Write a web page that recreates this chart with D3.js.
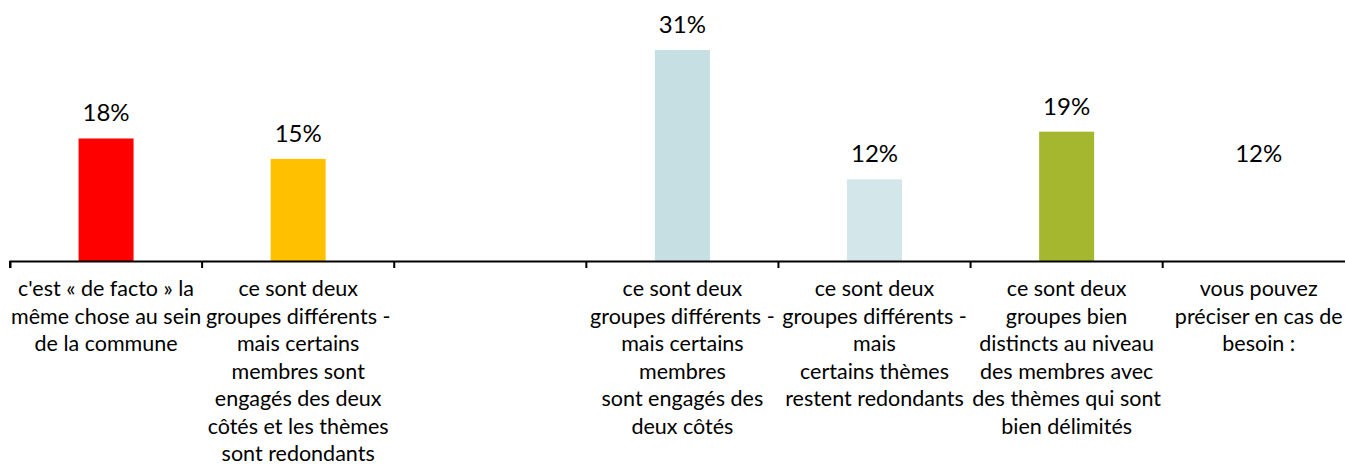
<!DOCTYPE html>
<html><head><meta charset="utf-8">
<script src="https://cdn.jsdelivr.net/npm/d3@7"></script>
<style>html,body{margin:0;padding:0;background:#fff;}svg{display:block;}</style>
</head><body>
<script>
const categories = [
  "c'est « de facto » la\nmême chose au sein\nde la commune",
  "ce sont deux\ngroupes différents -\nmais certains\nmembres sont\nengagés des deux\ncôtés et les thèmes\nsont redondants",
  "",
  "ce sont deux\ngroupes différents -\nmais certains\nmembres\nsont engagés des\ndeux côtés",
  "ce sont deux\ngroupes différents -\nmais\ncertains thèmes\nrestent redondants",
  "ce sont deux\ngroupes bien\ndistincts au niveau\ndes membres avec\ndes thèmes qui sont\nbien délimités",
  "vous pouvez\npréciser en cas de\nbesoin :"
];
const values = [18, 15, null, 31, 12, 19, 12];
const colors = ["#FF0000", "#FFC000", "#FFFFFF", "#C5DFE2", "#D3E6E9", "#A5B62F", "#FFFFFF"];
const valueLabels = ["18%", "15%", "", "31%", "12%", "19%", "12%"];

const W = 1345, H = 467;
const svg = d3.select("body").append("svg").attr("width", W).attr("height", H);
const font = "Lato, 'Open Sans', sans-serif";

const idx = d3.range(categories.length);
const x = d3.scaleBand().domain(idx).range([10, 1354.8]).paddingInner(0).paddingOuter(0);
const baseY = 261;
const y = d3.scaleLinear().domain([0, 31]).range([baseY, 50]);
const barW = 55;

// bars
svg.selectAll("rect.bar").data(idx.filter(i => values[i] != null)).enter().append("rect")
  .attr("x", i => x(i) + x.bandwidth() / 2 - barW / 2)
  .attr("y", i => y(values[i]))
  .attr("width", barW)
  .attr("height", i => baseY - y(values[i]))
  .attr("fill", i => colors[i]);

// value labels
svg.selectAll("text.val").data(idx.filter(i => values[i] != null)).enter().append("text")
  .attr("x", i => x(i) + x.bandwidth() / 2)
  .attr("y", i => y(values[i]) - 17)
  .attr("text-anchor", "middle")
  .attr("font-family", font)
  .attr("font-size", 24)
  .attr("fill", "#000")
  .text(i => valueLabels[i]);

// axis
const axis = d3.axisBottom(x).tickSize(7).tickSizeOuter(7).tickFormat("");
const gAxis = svg.append("g").attr("transform", `translate(0,${baseY})`).call(axis);
gAxis.selectAll(".tick").remove();
gAxis.select(".domain").attr("stroke", "#000").attr("stroke-width", 2);
// ticks at band boundaries
const bounds = idx.map(i => x(i)).concat([x.range()[1]]);
gAxis.selectAll("line.bnd").data(bounds).enter().append("line")
  .attr("x1", d => d).attr("x2", d => d).attr("y1", 0).attr("y2", 7)
  .attr("stroke", "#000").attr("stroke-width", 2);

// category labels
const lineH = 27.5;
idx.forEach(i => {
  const lines = categories[i] ? categories[i].split("\n") : [];
  const t = svg.append("text")
    .attr("text-anchor", "middle")
    .attr("font-family", font)
    .attr("font-size", 21.5)
    .attr("fill", "#000");
  lines.forEach((l, j) => {
    t.append("tspan").attr("x", x(i) + x.bandwidth() / 2).attr("y", 296 + j * lineH).text(l);
  });
});
</script>
</body></html>
